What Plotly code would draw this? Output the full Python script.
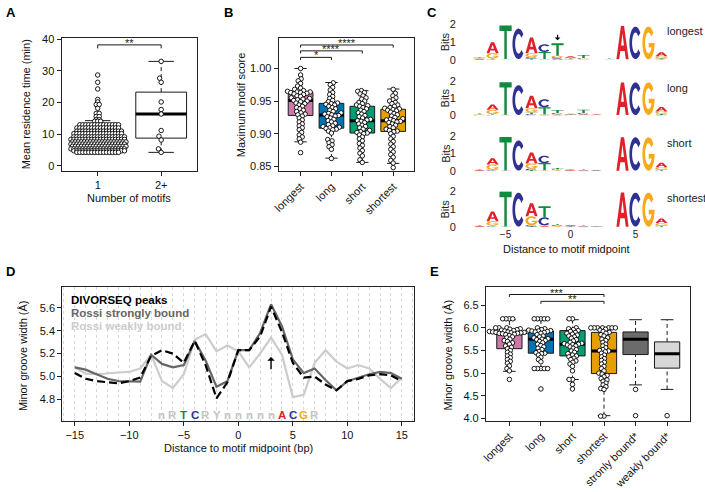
import math
import plotly.graph_objects as go

W, H = 705, 492
FONT = "Liberation Sans, Arial, Helvetica, sans-serif"

# ======================= DATA =======================
# ---- Panel A: residence time by number of motifs ----
a_categories = ["1", "2+"]
a_one_values = [28.7, 26.4, 24.3, 21.0, 20.2, 19.4, 18.2, 16.6, 15.6, 14.6, 14.1, 13.0,
                12.0, 11.0, 10.2, 9.2, 8.4, 7.6, 6.9, 6.2, 5.4, 4.8, 4.3]
a_one_counts = [1, 1, 1, 1, 1, 2, 1, 2, 2, 2, 3, 14, 15, 16, 17, 18, 19, 19, 19, 19, 19, 18, 15]
a_two_values = [33.0, 27.7, 26.4, 20.2, 17.8, 16.4, 11.2, 9.4, 8.2, 5.4, 4.3]
a_q1 = [6.0, 8.8]
a_med = [7.3, 16.4]
a_q3 = [9.4, 23.3]
a_lo = [4.3, 4.3]
a_hi = [14.3, 33.0]
a_sig_pairs = [(1, 2)]
a_sig_levels = [38.2]
a_sig_labels = ["**"]

# ---- Panel B: maximum motif score ----
b_categories = ["longest", "long", "short", "shortest"]
b_colors = ["#CC79A7", "#0072B2", "#009E73", "#E69F00"]
b_longest = [1.000, 0.990, 0.984, 0.981, 0.977, 0.973, 0.970, 0.968, 0.966, 0.965, 0.964, 0.964,
             0.963, 0.963, 0.962, 0.961, 0.960, 0.958, 0.957, 0.955, 0.954, 0.953, 0.952, 0.951,
             0.950, 0.949, 0.947, 0.946, 0.944, 0.942, 0.940, 0.938, 0.936, 0.934, 0.932, 0.930,
             0.929, 0.927, 0.924, 0.921, 0.918, 0.915, 0.912, 0.909, 0.906, 0.902, 0.898, 0.895,
             0.892, 0.887, 0.871]
b_long = [0.978, 0.975, 0.971, 0.967, 0.963, 0.960, 0.957, 0.954, 0.951, 0.949, 0.947, 0.946,
          0.945, 0.944, 0.942, 0.940, 0.938, 0.936, 0.934, 0.932, 0.931, 0.930, 0.929, 0.928,
          0.927, 0.926, 0.924, 0.922, 0.920, 0.918, 0.916, 0.914, 0.912, 0.911, 0.910, 0.909,
          0.908, 0.907, 0.906, 0.904, 0.901, 0.891, 0.889, 0.886, 0.883, 0.880, 0.876, 0.862]
b_short = [0.966, 0.965, 0.963, 0.961, 0.958, 0.955, 0.953, 0.950, 0.948, 0.946, 0.944, 0.943,
           0.942, 0.940, 0.938, 0.936, 0.934, 0.932, 0.930, 0.928, 0.926, 0.924, 0.922, 0.921,
           0.920, 0.919, 0.917, 0.915, 0.913, 0.911, 0.909, 0.907, 0.905, 0.903, 0.902, 0.901,
           0.900, 0.898, 0.895, 0.892, 0.889, 0.885, 0.882, 0.878, 0.874, 0.870, 0.866, 0.860,
           0.856]
b_shortest = [0.968, 0.962, 0.958, 0.955, 0.952, 0.950, 0.948, 0.946, 0.944, 0.942, 0.940, 0.939,
              0.938, 0.937, 0.936, 0.935, 0.933, 0.931, 0.929, 0.927, 0.925, 0.923, 0.922, 0.921,
              0.920, 0.919, 0.918, 0.917, 0.915, 0.913, 0.911, 0.909, 0.907, 0.905, 0.904, 0.903,
              0.900, 0.896, 0.892, 0.888, 0.884, 0.880, 0.876, 0.872, 0.868, 0.864, 0.859, 0.855,
              0.848]
b_q1 = [0.928, 0.9085, 0.901, 0.9035]
b_med = [0.951, 0.9285, 0.920, 0.920]
b_q3 = [0.9635, 0.9465, 0.942, 0.9375]
b_lo = [0.8875, 0.8625, 0.856, 0.8545]
b_hi = [1.000, 0.9785, 0.966, 0.9685]
b_sig_pairs = [(1, 2), (1, 3), (1, 4)]
b_sig_levels = [1.017, 1.027, 1.036]
b_sig_labels = ["*", "****", "****"]

# ---- Panel C: sequence logos (positions -7..7, information in bits) ----
logo_positions = list(range(-7, 8))
logo_rows = ["longest", "long", "short", "shortest"]
longest_A = [.03, .62, .02, .01, .90, .02, .06, .08, .03, .01, .02, 1.88, .01, .01, .22]
longest_C = [.02, .03, .01, 1.74, .08, .44, .08, .03, .04, .01, .01, .01, 1.85, .01, .03]
longest_G = [.03, .30, .01, .01, .22, .02, .08, .03, .03, .01, .01, .01, .01, 1.85, .12]
longest_T = [.04, .04, 1.90, .01, .06, .40, .72, .05, .16, .01, .03, .01, .01, .01, .05]
long_A = [.03, .30, .02, .01, .72, .03, .04, .04, .05, .03, .01, 1.88, .01, .01, .25]
long_C = [.02, .04, .01, 1.72, .08, .46, .06, .02, .06, .02, .01, .01, 1.88, .01, .03]
long_G = [.03, .25, .01, .01, .24, .03, .04, .02, .03, .02, .01, .01, .01, 1.88, .15]
long_T = [.04, .04, 1.88, .01, .10, .42, .18, .03, .20, .02, .01, .01, .01, .01, .06]
short_A = [.03, .35, .02, .01, .62, .03, .03, .03, .03, .02, .01, 1.90, .01, .01, .25]
short_C = [.02, .04, .01, 1.72, .08, .42, .04, .03, .02, .02, .01, .01, 1.90, .01, .03]
short_G = [.03, .30, .01, .01, .30, .03, .03, .02, .02, .01, .01, .01, .01, 1.90, .15]
short_T = [.03, .04, 1.90, .01, .06, .40, .08, .03, .03, .02, .01, .01, .01, .01, .05]
shortest_A = [.03, .55, .02, .01, .72, .05, .03, .05, .03, .02, .01, 1.90, .01, .01, .25]
shortest_C = [.02, .04, .01, 1.90, .06, .45, .05, .02, .02, .01, .01, .01, 1.90, .01, .03]
shortest_G = [.03, .25, .01, .01, .50, .05, .03, .02, .02, .01, .01, .01, .01, 1.90, .15]
shortest_T = [.03, .04, 1.95, .01, .05, .62, .06, .03, .03, .02, .01, .01, .01, .01, .05]
base_colors = {"A": "#E0202A", "C": "#2E3192", "G": "#F7A81B", "T": "#108A3E"}

# ---- Panel D: minor groove width profiles ----
d_positions = list(range(-15, 16))
d_divorseq = [5.03, 4.98, 4.96, 4.95, 4.94, 4.96, 4.99, 5.18, 5.23, 5.20, 5.12, 5.31, 5.10, 4.81,
              4.95, 5.23, 5.23, 5.35, 5.61, 5.39, 5.12, 4.99, 5.00, 4.93, 4.88, 4.96, 4.98, 5.01,
              5.02, 5.01, 4.96]
d_strong = [5.08, 5.06, 5.02, 4.98, 4.96, 4.955, 4.955, 5.19, 5.11, 5.08, 5.10, 5.31, 5.14, 4.91,
            4.96, 5.23, 5.23, 5.38, 5.63, 5.44, 5.15, 5.03, 5.07, 4.97, 4.88, 4.96, 4.99, 5.02,
            5.04, 5.03, 4.98]
d_weak = [5.08, 5.025, 5.02, 5.03, 5.035, 5.04, 5.07, 5.19, 4.96, 4.90, 5.02, 5.32, 5.37, 5.22,
          5.27, 5.22, 5.08, 5.20, 5.34, 5.19, 4.82, 4.84, 5.12, 5.23, 5.13, 5.07, 5.10, 5.07,
          4.98, 4.90, 4.99]
d_series_names = ["DIVORSEQ peaks", "Rossi strongly bound", "Rossi weakly bound"]
d_motif_positions = list(range(-7, 8))
d_motif_letters = ["n", "R", "T", "C", "R", "Y", "n", "n", "n", "n", "n", "A", "C", "G", "R"]

# ---- Panel E: minor groove width at the motif ----
e_categories = ["longest", "long", "short", "shortest", "stronly bound*", "weakly bound*"]
e_colors = ["#CC79A7", "#0072B2", "#009E73", "#E69F00", "#6B6B6B", "#D7D7D7"]
e_longest = [6.2, 6.2, 6.2, 6.2, 6.0, 6.0, 6.0, 5.98, 5.97, 5.96, 5.95, 5.94, 5.93, 5.92, 5.92,
             5.91, 5.91, 5.90, 5.90, 5.89, 5.89, 5.88, 5.88, 5.87, 5.86, 5.85, 5.83, 5.80, 5.78,
             5.75, 5.72, 5.70, 5.67, 5.64, 5.60, 5.57, 5.54, 5.50, 5.46, 5.42, 5.38, 5.34, 5.30,
             5.26, 5.22, 5.16, 5.10, 5.05, 4.86]
e_long = [6.2, 6.2, 6.2, 6.2, 6.2, 6.0, 5.98, 5.96, 5.95, 5.94, 5.93, 5.93, 5.92, 5.91, 5.90,
          5.88, 5.85, 5.82, 5.80, 5.78, 5.76, 5.75, 5.74, 5.72, 5.70, 5.67, 5.64, 5.61, 5.58,
          5.55, 5.52, 5.48, 5.45, 5.44, 5.43, 5.40, 5.35, 5.30, 5.25, 5.10, 5.10, 5.10, 5.10,
          5.10, 4.65]
e_short = [6.2, 6.2, 6.0, 5.98, 5.96, 5.94, 5.92, 5.90, 5.88, 5.86, 5.84, 5.82, 5.80, 5.77, 5.74,
           5.71, 5.68, 5.66, 5.65, 5.64, 5.63, 5.62, 5.60, 5.58, 5.55, 5.52, 5.49, 5.46, 5.43,
           5.40, 5.38, 5.36, 5.33, 5.30, 5.27, 5.24, 5.20, 5.15, 5.05, 4.86, 4.86, 4.75, 4.65]
e_shortest = [6.0, 6.0, 6.0, 6.0, 6.0, 6.0, 6.0, 5.97, 5.95, 5.92, 5.90, 5.88, 5.85, 5.82, 5.78,
              5.75, 5.72, 5.68, 5.64, 5.60, 5.56, 5.52, 5.50, 5.49, 5.47, 5.44, 5.40, 5.36, 5.32,
              5.28, 5.24, 5.20, 5.15, 5.10, 5.05, 5.00, 4.98, 4.95, 4.92, 4.88, 4.85, 4.82, 4.78,
              4.74, 4.70, 4.66, 4.64, 4.05, 4.05]
e_outliers_strong = [4.64, 4.06]
e_outliers_weak = [4.06]
e_q1 = [5.54, 5.44, 5.38, 4.99, 5.41, 5.11]
e_med = [5.88, 5.75, 5.64, 5.49, 5.75, 5.43]
e_q3 = [5.91, 5.93, 5.94, 5.90, 5.91, 5.69]
e_lo = [5.04, 5.10, 4.86, 4.06, 4.74, 4.64]
e_hi = [6.18, 6.18, 6.18, 6.00, 6.18, 6.18]
e_sig_pairs = [(1, 4), (2, 4)]
e_sig_levels = [6.737, 6.586]
e_sig_labels = ["***", "**"]

# ======================= LAYOUT HELPERS =======================
def P(xpx, ypx):
    return xpx / W, 1 - ypx / H

def dom_x(a, b):
    return [a / W, b / W]

def dom_y(top, bot):
    return [1 - bot / H, 1 - top / H]

A_X, A_Y, A_XR, A_YR = (56, 193), (33, 169), [0.43, 2.57], [-1.54, 40.31]
B_X, B_Y, B_XR, B_YR = (275, 412), (33, 169), [0.29, 4.69], [0.843, 1.0464]
C_X, C_XR = (464, 672), [-8.04, 7.83]
C_ROWS_Y = [(19, 55), (76.7, 112.3), (133.3, 169.3), (190, 226.7)]
D_X, D_Y, D_XR, D_YR = (56.7, 411.7), (288.3, 425), [-16.15, 16.13], [4.615, 5.779]
E_X, E_Y, E_XR, E_YR = (484, 690), (288.3, 425), [0.255, 6.73], [3.95, 6.897]

def sx_of(px, rng):
    return (px[1] - px[0]) / (rng[1] - rng[0])

fig = go.Figure()
annotations = []
shapes = []
INK = "#1a1a1a"
PT_SIZE = 4.5


def swarm(vals, d, sx, sy):
    order = sorted(range(len(vals)), key=lambda i: vals[i])
    placed = []
    offs = [0.0] * len(vals)
    for i in order:
        y = vals[i] * sy
        near = [(px, py) for px, py in placed if abs(py - y) < d]
        cands = [0.0]
        for px, py in near:
            dx = math.sqrt(max(d * d - (py - y) ** 2, 0))
            cands += [px + dx, px - dx]
        cands.sort(key=lambda c: (abs(c), c))
        chosen = 0.0
        for c in cands:
            if all((c - px) ** 2 + (y - py) ** 2 >= d * d - 1e-6 for px, py in near):
                chosen = c
                break
        placed.append((chosen, y))
        offs[i] = chosen / sx
    return offs


def rows_layout(vals, s, sx):
    # points sharing a value sit side by side in a centred row; alternate rows are staggered
    groups = {}
    for i, v in enumerate(vals):
        groups.setdefault(v, []).append(i)
    offs = [0.0] * len(vals)
    for k, (v, idx) in enumerate(sorted(groups.items())):
        n = len(idx)
        shift = 0.5 if (k % 2 == 1 and n > 3) else 0.0
        for j, i in enumerate(idx):
            offs[i] = (j - (n - 1) / 2 + shift) * s / sx
    return offs


def add_box(xa, ya, xc, q1, med, q3, lo, hi, fill, w=0.8):
    l, r = xc - w / 2, xc + w / 2
    common = dict(xaxis=xa, yaxis=ya, showlegend=False, hoverinfo="skip")
    fig.add_trace(go.Scatter(x=[xc, xc], y=[q3, hi], mode="lines",
                             line=dict(color=INK, width=1, dash="4px,3px"), **common))
    fig.add_trace(go.Scatter(x=[xc, xc], y=[lo, q1], mode="lines",
                             line=dict(color=INK, width=1, dash="4px,3px"), **common))
    fig.add_trace(go.Scatter(x=[xc - w / 4, xc + w / 4], y=[hi, hi], mode="lines",
                             line=dict(color=INK, width=1), **common))
    fig.add_trace(go.Scatter(x=[xc - w / 4, xc + w / 4], y=[lo, lo], mode="lines",
                             line=dict(color=INK, width=1), **common))
    fig.add_trace(go.Scatter(x=[l, r, r, l, l], y=[q1, q1, q3, q3, q1], mode="lines",
                             fill="toself", fillcolor=fill, line=dict(color=INK, width=1), **common))
    fig.add_trace(go.Scatter(x=[l, r], y=[med, med], mode="lines",
                             line=dict(color="black", width=3), **common))


def add_points(xa, ya, xc, vals, offs):
    fig.add_trace(go.Scatter(x=[xc + o for o in offs], y=vals, mode="markers", xaxis=xa, yaxis=ya,
                             marker=dict(size=PT_SIZE, color="white",
                                         line=dict(color="black", width=0.9)),
                             showlegend=False, hoverinfo="skip"))


def add_sig(xa, ya, pairs, levels, labels, drop):
    for (a, b), lv, lab in zip(pairs, levels, labels):
        fig.add_trace(go.Scatter(x=[a, a, b, b], y=[lv - drop, lv, lv, lv - drop], mode="lines",
                                 xaxis=xa, yaxis=ya, line=dict(color=INK, width=1),
                                 showlegend=False, hoverinfo="skip"))
        annotations.append(dict(x=(a + b) / 2, y=lv, xref=xa, yref=ya, text=lab, showarrow=False,
                                xanchor="center", yanchor="bottom", yshift=-6,
                                font=dict(size=11, color=INK)))


# ======================= PANEL A =======================
a_one_all = []
for v, c in zip(a_one_values, a_one_counts):
    a_one_all += [v] * c
sxA = sx_of(A_X, A_XR)
syA = (A_Y[1] - A_Y[0]) / (A_YR[1] - A_YR[0])
for i in range(2):
    add_box("x", "y", i + 1, a_q1[i], a_med[i], a_q3[i], a_lo[i], a_hi[i], "white")
add_points("x", "y", 1, a_one_all, rows_layout(a_one_all, 3.0, sxA))
add_points("x", "y", 2, a_two_values, swarm(a_two_values, 4.5, sxA, syA))
add_sig("x", "y", a_sig_pairs, a_sig_levels, a_sig_labels, 1.1)

# ======================= PANEL B =======================
sxB = sx_of(B_X, B_XR)
syB = (B_Y[1] - B_Y[0]) / (B_YR[1] - B_YR[0])
b_groups = [b_longest, b_long, b_short, b_shortest]
for i, vals in enumerate(b_groups):
    add_box("x2", "y2", i + 1, b_q1[i], b_med[i], b_q3[i], b_lo[i], b_hi[i], b_colors[i])
    add_points("x2", "y2", i + 1, vals, swarm(vals, 3.6, sxB, syB))
add_sig("x2", "y2", b_sig_pairs, b_sig_levels, b_sig_labels, 0.004)

# ======================= PANEL C (logos) =======================
def ellipse_pts(cx, cy, rx, ry, a0, a1, n=36):
    out = []
    for k in range(n + 1):
        t = math.radians(a0 + (a1 - a0) * k / n)
        out.append((cx + rx * math.cos(t), cy + ry * math.sin(t)))
    return out

GLYPHS = {
    "T": [[(0, 1), (1, 1), (1, 0.84), (0.6, 0.84), (0.6, 0), (0.4, 0), (0.4, 0.84), (0, 0.84)]],
    "A": [[(0, 0), (0.37, 1), (0.63, 1), (1, 0), (0.77, 0), (0.68, 0.25), (0.32, 0.25), (0.23, 0)],
          [(0.38, 0.41), (0.62, 0.41), (0.5, 0.78)]],
    "C": [ellipse_pts(0.5, 0.5, 0.5, 0.5, 38, 322) + ellipse_pts(0.5, 0.5, 0.28, 0.32, 322, 38)],
    "G": [ellipse_pts(0.5, 0.5, 0.5, 0.5, 38, 360) + [(0.52, 0.5), (0.52, 0.36)]
          + ellipse_pts(0.5, 0.5, 0.28, 0.32, 335, 38)],
}

logo_data = {
    "longest": {"A": longest_A, "C": longest_C, "G": longest_G, "T": longest_T},
    "long": {"A": long_A, "C": long_C, "G": long_G, "T": long_T},
    "short": {"A": short_A, "C": short_C, "G": short_G, "T": short_T},
    "shortest": {"A": shortest_A, "C": shortest_C, "G": shortest_G, "T": shortest_T},
}


def letter_path(letter, xc, y0, h, w=0.94):
    parts = []
    for poly in GLYPHS[letter]:
        pts = [(xc - w / 2 + w * gx, y0 + h * gy) for gx, gy in poly]
        parts.append("M" + "L".join(f"{x:.4f},{y:.4f}" for x, y in pts) + "Z")
    return "".join(parts)


for r, row in enumerate(logo_rows):
    xa, ya = f"x{3 + r}", f"y{3 + r}"
    fig.add_trace(go.Scatter(x=[logo_positions[0]], y=[0], mode="markers", xaxis=xa, yaxis=ya,
                             marker=dict(opacity=0), showlegend=False, hoverinfo="skip"))
    for j, pos in enumerate(logo_positions):
        stack = sorted(((logo_data[row][b][j], b) for b in "ACGT"))
        y0 = 0.0
        for h, b in stack:
            if h >= 0.015:
                shapes.append(dict(type="path", path=letter_path(b, pos, y0, h), xref=xa, yref=ya,
                                   fillcolor=base_colors[b], line=dict(width=0), fillrule="evenodd",
                                   layer="above"))
            y0 += h
    lx, ly = P(665, C_ROWS_Y[r][0] + 7)
    annotations.append(dict(x=lx, y=ly, xref="paper", yref="paper", text=row, showarrow=False,
                            xanchor="left", yanchor="middle", font=dict(size=11, color="#222")))
    bx, by = P(443, (C_ROWS_Y[r][0] + C_ROWS_Y[r][1]) / 2)
    annotations.append(dict(x=bx, y=by, xref="paper", yref="paper", text="Bits", showarrow=False,
                            xanchor="center", yanchor="middle", textangle=-90,
                            font=dict(size=11, color="#222")))

annotations.append(dict(x=-1, y=1.1, ax=-1, ay=1.5, xref="x3", yref="y3", axref="x3", ayref="y3",
                        showarrow=True, arrowhead=1, arrowsize=0.8, arrowwidth=1.2,
                        arrowcolor="black", text=""))

# ======================= PANEL D =======================
fig.add_trace(go.Scatter(x=d_positions, y=d_weak, mode="lines", xaxis="x7", yaxis="y7",
                         line=dict(color="#CCCCCC", width=2.2), showlegend=False, hoverinfo="skip"))
fig.add_trace(go.Scatter(x=d_positions, y=d_strong, mode="lines", xaxis="x7", yaxis="y7",
                         line=dict(color="#666666", width=2.2), showlegend=False, hoverinfo="skip"))
fig.add_trace(go.Scatter(x=d_positions, y=d_divorseq, mode="lines", xaxis="x7", yaxis="y7",
                         line=dict(color="black", width=2.2, dash="8px,4px"),
                         showlegend=False, hoverinfo="skip"))
for name, col, ypx in zip(d_series_names, ["black", "#666666", "#CCCCCC"], [301.7, 315, 327.7]):
    x0, y0 = P(64, ypx)
    annotations.append(dict(x=x0, y=y0, xref="paper", yref="paper", text=f"<b>{name}</b>",
                            showarrow=False, xanchor="left", yanchor="middle",
                            font=dict(size=11.5, color=col)))
motif_color = {"T": "#108A3E", "C": "#2E3192", "A": "#E0202A", "G": "#F7A81B"}
for pos, let in zip(d_motif_positions, d_motif_letters):
    annotations.append(dict(x=pos, y=4.668, xref="x7", yref="y7", text=f"<b>{let}</b>",
                            showarrow=False, xanchor="center", yanchor="middle",
                            font=dict(size=11.5, color=motif_color.get(let, "#C4C4C4"))))
annotations.append(dict(x=3, y=5.17, ax=3, ay=5.05, xref="x7", yref="y7", axref="x7", ayref="y7",
                        showarrow=True, arrowhead=1, arrowsize=0.9, arrowwidth=1.4,
                        arrowcolor="black", text=""))

# ======================= PANEL E =======================
sxE = sx_of(E_X, E_XR)
syE = (E_Y[1] - E_Y[0]) / (E_YR[1] - E_YR[0])
e_groups = [e_longest, e_long, e_short, e_shortest]
for i in range(6):
    add_box("x8", "y8", i + 1, e_q1[i], e_med[i], e_q3[i], e_lo[i], e_hi[i], e_colors[i])
for i, vals in enumerate(e_groups):
    add_points("x8", "y8", i + 1, vals, swarm(vals, 3.4, sxE, syE))
e_out_x = [5] * len(e_outliers_strong) + [6] * len(e_outliers_weak)
add_points("x8", "y8", 0, e_outliers_strong + e_outliers_weak, e_out_x)
add_sig("x8", "y8", e_sig_pairs, e_sig_levels, e_sig_labels, 0.055)

# ======================= TEXT =======================
def txt(xpx, ypx, text, size=11, angle=0, bold=False, color="#111"):
    x, y = P(xpx, ypx)
    annotations.append(dict(x=x, y=y, xref="paper", yref="paper", showarrow=False,
                            xanchor="center", yanchor="middle",
                            text=f"<b>{text}</b>" if bold else text, textangle=angle,
                            font=dict(size=size, color=color)))

txt(20, 101, "Mean residence time (min)", angle=-90)
txt(124.5, 196.7, "Number of motifs")
txt(236.7, 101, "Maximum motif score", angle=-90)
txt(565, 249.5, "Distance to motif midpoint")
txt(17, 358, "Minor groove width (Å)", angle=-90)
txt(234.5, 452.7, "Distance to motif midpoint (bp)")
txt(446, 358, "Minor groove width (Å)", angle=-90)
for lab, (xp, yp) in zip("ABCDE", [(5, 7), (224, 7), (430, 7), (5, 272), (432, 272)]):
    txt(xp, yp, lab, size=13, bold=True, color="black")

# ======================= AXES =======================
frame = dict(showline=True, mirror=True, linecolor="#222", linewidth=1, ticks="outside", ticklen=4,
             tickcolor="#222", tickfont=dict(size=11, color="#111", family=FONT), showgrid=False,
             zeroline=False, fixedrange=True)

layout = dict(
    xaxis=dict(frame, domain=dom_x(*A_X), range=A_XR, anchor="y", tickvals=[1, 2],
               ticktext=a_categories),
    yaxis=dict(frame, domain=dom_y(*A_Y), range=A_YR, anchor="x", tickvals=[0, 10, 20, 30, 40]),
    xaxis2=dict(frame, domain=dom_x(*B_X), range=B_XR, anchor="y2", tickvals=[1, 2, 3, 4],
                ticktext=b_categories, tickangle=-45),
    yaxis2=dict(frame, domain=dom_y(*B_Y), range=B_YR, anchor="x2",
                tickvals=[0.85, 0.90, 0.95, 1.00], tickformat=".2f"),
    xaxis7=dict(frame, domain=dom_x(*D_X), range=D_XR, anchor="y7", tick0=0, dtick=5,
                showgrid=True, gridcolor="#D8D8D8", griddash="dot", gridwidth=1,
                minor=dict(tick0=0, dtick=1, showgrid=True, gridcolor="#D8D8D8", griddash="dot",
                           gridwidth=1, ticks="")),
    yaxis7=dict(frame, domain=dom_y(*D_Y), range=D_YR, anchor="x7",
                tickvals=[4.8, 5.0, 5.2, 5.4, 5.6], tickformat=".1f"),
    xaxis8=dict(frame, domain=dom_x(*E_X), range=E_XR, anchor="y8", tickvals=[1, 2, 3, 4, 5, 6],
                ticktext=e_categories, tickangle=-45),
    yaxis8=dict(frame, domain=dom_y(*E_Y), range=E_YR, anchor="x8",
                tickvals=[4.0, 4.5, 5.0, 5.5, 6.0, 6.5], tickformat=".1f"),
)
for r in range(4):
    layout[f"xaxis{3 + r}"] = dict(domain=dom_x(*C_X), range=C_XR, anchor=f"y{3 + r}",
                                   showline=False, showgrid=False, zeroline=False,
                                   tickvals=[-5, 0, 5], showticklabels=(r == 3), ticks="",
                                   tickfont=dict(size=10, color="#222", family=FONT), fixedrange=True)
    layout[f"yaxis{3 + r}"] = dict(domain=dom_y(*C_ROWS_Y[r]), range=[0, 2], anchor=f"x{3 + r}",
                                   showline=False, showgrid=False, zeroline=False,
                                   tickvals=[0, 1, 2], ticks="outside", ticklen=7,
                                   tickcolor="rgba(0,0,0,0)",
                                   tickfont=dict(size=11, color="#222", family=FONT), fixedrange=True)

fig.update_layout(**layout)
fig.update_layout(width=W, height=H, margin=dict(l=0, r=0, t=0, b=0), autosize=False,
                  paper_bgcolor="white", plot_bgcolor="white", showlegend=False,
                  font=dict(family=FONT, size=11, color="#111"),
                  annotations=annotations, shapes=shapes)

fig.write_html("out.html", config={"displayModeBar": False, "staticPlot": True},
               post_script="document.body.style.margin='0px';document.body.style.padding='0px';")
